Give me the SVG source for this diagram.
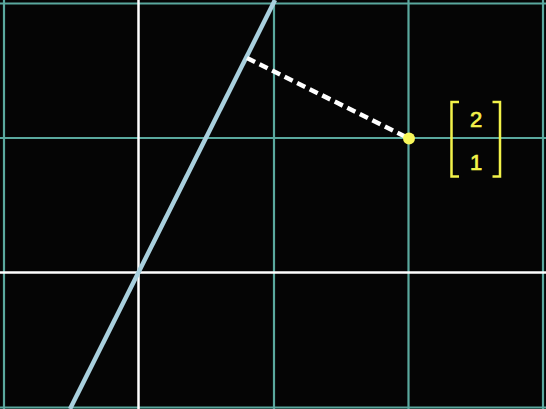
<svg xmlns="http://www.w3.org/2000/svg" width="546" height="409" viewBox="0 0 546 409">
  <style>
    .grid { stroke: #5aa89e; stroke-width: 2.2; }
    .axis { stroke: #ffffff; stroke-width: 2.5; }
    .label { font-family: "Liberation Sans", Arial, sans-serif; font-size: 22px; fill: #f2f24a; stroke: #f2f24a; stroke-width: 0.7; text-anchor: middle; }
    .bracket { fill: none; stroke: #f2f24a; stroke-width: 2.5; }
  </style>
  <rect x="0" y="0" width="546" height="409" fill="#050505"/>
  <g id="grid">
    <line class="grid" x1="4" y1="0" x2="4" y2="409"/>
    <line class="grid" x1="274" y1="0" x2="274" y2="409"/>
    <line class="grid" x1="408.5" y1="0" x2="408.5" y2="409"/>
    <line class="grid" x1="543" y1="0" x2="543" y2="409"/>
    <line class="grid" x1="0" y1="3.5" x2="546" y2="3.5"/>
    <line class="grid" x1="0" y1="138" x2="546" y2="138"/>
    <line class="grid" x1="0" y1="407.5" x2="546" y2="407.5"/>
  </g>
  <g id="axes">
    <line class="axis" x1="138.5" y1="0" x2="138.5" y2="409"/>
    <line class="axis" x1="0" y1="272.5" x2="546" y2="272.5"/>
  </g>
  <g id="line">
    <line x1="70" y1="409" x2="275" y2="0" stroke="#a9d0de" stroke-width="4.5"/>
  </g>
  <g id="connectors">
    <line x1="247" y1="58" x2="407" y2="137.5" stroke="#ffffff" stroke-width="4.5" stroke-dasharray="9 5"/>
  </g>
  <g id="point">
    <circle cx="409" cy="138.5" r="6" fill="#f7f75a"/>
  </g>
  <g id="vector-label">
    <path class="bracket" d="M459 102 H451.5 V176.5 H459"/>
    <path class="bracket" d="M492.5 102 H500 V176.5 H492.5"/>
    <text class="label" x="476" y="126.5">2</text>
    <text class="label" x="476" y="170">1</text>
  </g>
</svg>
